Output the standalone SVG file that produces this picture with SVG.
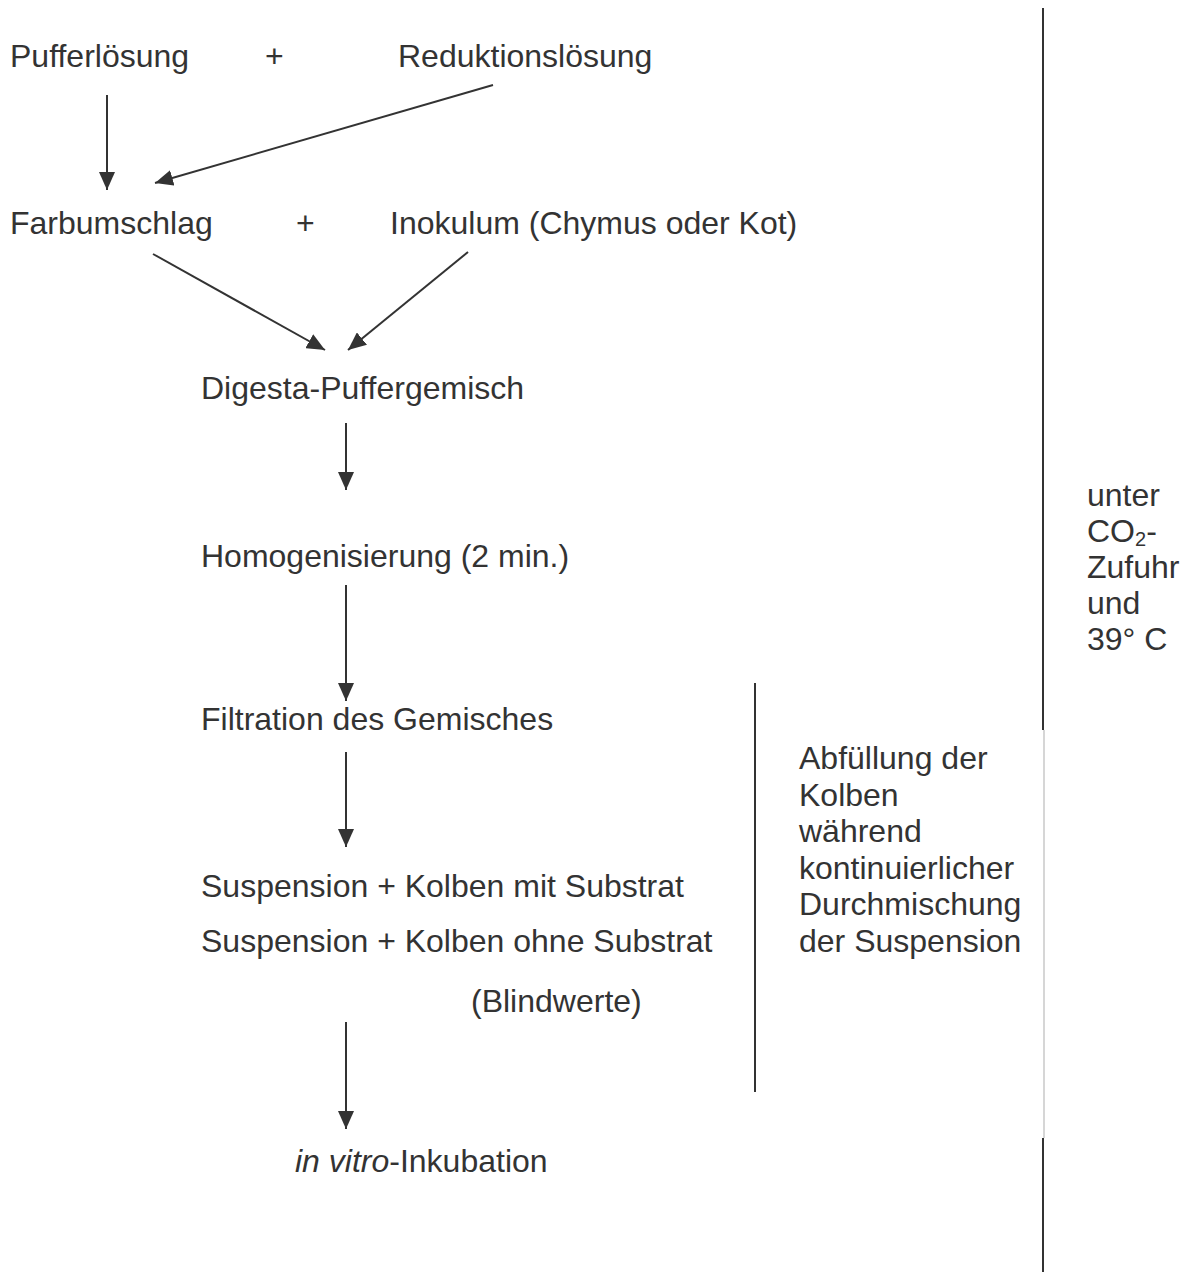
<svg xmlns="http://www.w3.org/2000/svg" width="1189" height="1272" viewBox="0 0 1189 1272">
<style>
text{font-family:"Liberation Sans",Arial,sans-serif;font-size:32px;fill:#333}
.c{stroke:#333;stroke-width:2;fill:none}
.thin{stroke:#bbb;stroke-width:1.2;fill:none}
</style>
<defs>
<marker id="ah" markerUnits="userSpaceOnUse" markerWidth="20" markerHeight="16" refX="18" refY="8" orient="auto">
<path d="M0,0 L18,8 L0,16 Z" fill="#333"/>
</marker>
</defs>
<rect width="1189" height="1272" fill="#fff"/>
<g id="connectors">
<line class="c" x1="107" y1="95" x2="107" y2="190" marker-end="url(#ah)"/>
<line class="c" x1="493" y1="85" x2="155" y2="183" marker-end="url(#ah)"/>
<line class="c" x1="153" y1="254" x2="325" y2="350" marker-end="url(#ah)"/>
<line class="c" x1="468" y1="252" x2="348" y2="350" marker-end="url(#ah)"/>
<line class="c" x1="346" y1="423" x2="346" y2="490" marker-end="url(#ah)"/>
<line class="c" x1="346" y1="585" x2="346" y2="701" marker-end="url(#ah)"/>
<line class="c" x1="346" y1="752" x2="346" y2="847" marker-end="url(#ah)"/>
<line class="c" x1="346" y1="1022" x2="346" y2="1129" marker-end="url(#ah)"/>
<line class="c" x1="755" y1="683" x2="755" y2="1092"/>
<line class="c" x1="1043" y1="8" x2="1043" y2="730"/>
<line class="thin" x1="1044" y1="730" x2="1044" y2="1138"/>
<line class="c" x1="1043" y1="1138" x2="1043" y2="1272"/>
</g>
<g id="n-puffer"><text x="10" y="67">Pufferlösung</text></g>
<g id="plus1"><text x="265" y="67">+</text></g>
<g id="n-reduktion"><text x="398" y="67">Reduktionslösung</text></g>
<g id="n-farb"><text x="10" y="234">Farbumschlag</text></g>
<g id="plus2"><text x="296" y="234">+</text></g>
<g id="n-inokulum"><text x="390" y="234">Inokulum (Chymus oder Kot)</text></g>
<g id="n-digesta"><text x="201" y="399">Digesta-Puffergemisch</text></g>
<g id="n-homog"><text x="201" y="567">Homogenisierung (2 min.)</text></g>
<g id="n-filtration"><text x="201" y="730">Filtration des Gemisches</text></g>
<g id="n-suspension">
<text x="201" y="897">Suspension + Kolben mit Substrat</text>
<text x="201" y="952">Suspension + Kolben ohne Substrat</text>
<text x="471" y="1012">(Blindwerte)</text>
</g>
<g id="n-inkubation"><text x="295" y="1172"><tspan font-style="italic">in vitro</tspan>-Inkubation</text></g>
<g id="n-abfuellung">
<text x="799" y="769">Abfüllung der</text>
<text x="799" y="806">Kolben</text>
<text x="799" y="842">während</text>
<text x="799" y="879">kontinuierlicher</text>
<text x="799" y="915">Durchmischung</text>
<text x="799" y="952">der Suspension</text>
</g>
<g id="n-co2">
<text x="1087" y="506">unter</text>
<text x="1087" y="542">CO<tspan font-size="20" dy="4">2</tspan><tspan dy="-4">-</tspan></text>
<text x="1087" y="578">Zufuhr</text>
<text x="1087" y="614">und</text>
<text x="1087" y="650">39° C</text>
</g>
</svg>
